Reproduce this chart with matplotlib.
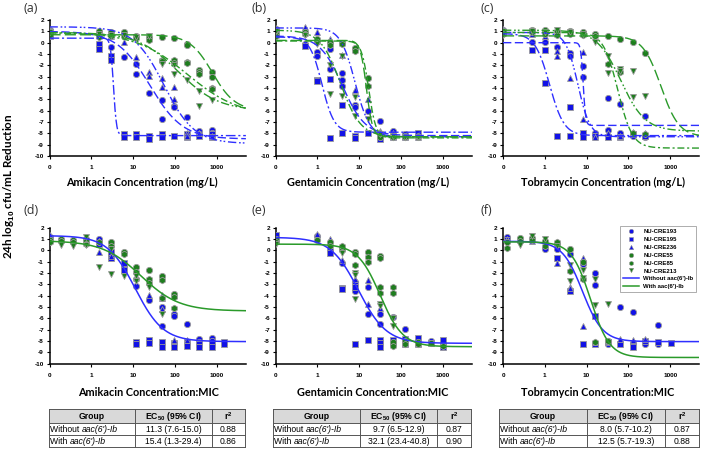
import numpy as np
import matplotlib
matplotlib.use("Agg")
import matplotlib.pyplot as plt
from matplotlib.lines import Line2D
from matplotlib.patches import Rectangle

plt.rcParams['mathtext.fontset'] = 'custom'
plt.rcParams['mathtext.rm'] = 'Liberation Sans'
plt.rcParams['mathtext.it'] = 'Liberation Sans:italic'
plt.rcParams['mathtext.bf'] = 'Liberation Sans:bold'

# ------------------------------------------------------------------ data
isolates = ['NU-CRE193', 'NU-CRE195', 'NU-CRE236', 'NU-CRE55', 'NU-CRE85', 'NU-CRE213']
x_ticks = [0, 1, 10, 100, 1000]
y_ticks = [2, 1, 0, -1, -2, -3, -4, -5, -6, -7, -8, -9, -10]

# (a) Amikacin (mg/L): (concentration, log10 reduction)
amk_193 = [(0, 1.1), (0, 0.9), (1.5, 0.8), (3, -0.35), (6, -1.25), (12, -1.85), (12, -2.8), (24, -4.45),
           (48, -5.1), (48, -6.7), (96, -5.6), (96, -5.7), (192, -6.6), (384, -7.8), (384, -8.1),
           (768, -7.7), (768, -8.0)]
amk_195 = [(0, 0.8), (0, 0.6), (1.5, -0.1), (1.5, -0.6), (3, -1.2), (3, -1.5), (6, -8.1), (6, -8.3),
           (12, -8.1), (12, -8.3), (24, -8.2), (24, -8.5), (48, -8.1), (48, -8.3), (96, -8.2),
           (192, -8.1), (192, -8.3), (384, -8.2), (768, -8.1), (768, -8.3)]
amk_236 = [(0, 1.0), (1.5, 0.9), (3, 0.6), (6, 0.1), (12, -1.3), (24, -2.6), (24, -2.9), (48, -3.1),
           (48, -3.9), (96, -3.9), (96, -5.0), (192, -8.0), (192, -8.2), (384, -8.0), (768, -8.2)]
amk_55 = [(0, 1.0), (0, 0.8), (1.5, 1.0), (3, 0.9), (6, 0.9), (12, 0.6), (24, 0.5), (48, 0.5), (96, 0.4),
          (192, -0.1), (192, -0.2), (384, -2.4), (768, -2.6), (768, -3.0)]
amk_85 = [(0, 0.7), (1.5, 0.7), (1.5, 0.5), (3, 0.6), (6, 0.6), (12, 0.4), (24, 0.2), (48, -1.5),
          (48, -1.6), (96, -1.5), (96, -1.8), (192, -1.7), (192, -1.8), (384, -2.6), (384, -2.8),
          (768, -4.0), (768, -4.1)]
amk_213 = [(0, 0.9), (1.5, 0.8), (3, 0.7), (6, 0.7), (12, 0.5), (24, 0.6), (48, -1.9), (96, -2.0),
           (96, -2.8), (192, -3.3), (384, -4.3), (384, -5.6), (768, -5.1)]
# fitted Emax curves per isolate: top, bottom, EC50, Hill
amk_top = [1.0, 0.4, 1.4, 0.7, 0.9, 0.9]
amk_bottom = [-8.5, -8.2, -8.9, -6.0, -6.5, -6.0]
amk_ec50 = [25, 3.4, 55, 790, 200, 120]
amk_hill = [1.1, 12, 1.2, 1.6, 0.7, 0.9]

# (b) Gentamicin (mg/L)
gen_193 = [(0, 1.2), (0.5, -0.1), (1, -0.8), (1, -1.2), (2, -0.6), (2, -2.3), (4, -2.7), (4, -3.3),
           (4, -3.8), (8, -5.5), (8, -5.7), (16, -6.0), (32, -6.9), (64, -7.8), (128, -8.1), (256, -8.2)]
gen_195 = [(0, 1.0), (0.5, -0.3), (1, -3.3), (1, -3.4), (2, -3.2), (2, -8.4), (4, -5.5), (4, -8.0),
           (8, -8.2), (8, -8.4), (16, -8.0), (32, -8.2), (32, -8.5), (64, -8.3), (128, -8.3), (256, -8.0)]
gen_236 = [(0, 1.3), (0.5, 1.4), (1, 0.9), (2, 0.3), (4, -1.1), (8, -4.2), (16, -5.0), (32, -7.8),
           (64, -8.0), (128, -8.2), (256, -8.3)]
gen_55 = [(0, 0.8), (0.5, 0.9), (1, 0.3), (2, 0.1), (4, 0.0), (8, -0.5), (16, -3.1), (32, -8.3),
          (64, -8.2), (128, -8.2), (256, -8.3)]
gen_85 = [(0, 0.6), (0.5, 0.8), (1, 0.1), (2, -0.2), (4, -0.1), (8, -0.7), (16, -3.8), (32, -8.0),
          (64, -8.3), (128, -8.3), (256, -8.2)]
gen_213 = [(0, 1.0), (0.5, 0.7), (1, -0.1), (2, -2.0), (2, -4.5), (4, -1.2), (4, -4.7), (8, -4.8),
           (8, -6.5), (16, -6.7), (32, -8.1), (64, -8.2), (128, -8.3), (256, -8.3)]
gen_top = [0.6, 0.5, 1.3, 0.2, 0.15, 1.1]
gen_bottom = [-8.2, -7.9, -8.3, -8.3, -8.4, -8.3]
gen_ec50 = [4.0, 1.3, 8.0, 15, 17, 3.6]
gen_hill = [1.6, 3.0, 2.5, 6, 5, 1.8]

# (c) Tobramycin (mg/L)
tob_193 = [(0, 1.1), (0.5, 0.1), (1, 0.1), (2, -0.35), (4, -0.95), (4, -1.2), (8, -2.05), (8, -3.0),
           (16, -8.0), (16, -8.2), (32, -4.9), (32, -7.7), (64, -5.4), (64, -8.0), (128, -8.2),
           (256, -6.5), (256, -8.3)]
tob_195 = [(0, 0.9), (0.5, -0.65), (1, -0.65), (1, -3.6), (2, -8.2), (4, -5.7), (4, -8.2), (8, -8.0),
           (8, -8.3), (16, -8.2), (32, -8.3), (64, -8.3), (128, -8.1), (256, -8.2)]
tob_236 = [(0, 1.2), (0.5, 0.8), (1, 0.6), (2, -0.7), (2, -1.15), (4, -3.1), (8, -0.8), (8, -6.7),
           (16, -8.3), (32, -8.0), (64, -8.2), (128, -7.9), (256, -8.0)]
tob_55 = [(0, 1.0), (0.5, 1.1), (1, 1.1), (2, 1.0), (4, 1.0), (8, 0.9), (16, 0.8), (32, 0.6), (64, 0.3),
          (128, 0.1), (256, -0.95)]
tob_85 = [(0, 0.8), (0.5, 0.9), (1, 0.8), (2, 0.7), (4, 0.8), (8, 0.7), (16, 0.6), (32, -1.9),
          (64, -2.6), (128, -8.0), (256, -8.1)]
tob_213 = [(0, 0.7), (0.5, 1.0), (1, 0.9), (2, 1.1), (4, 0.9), (8, 0.8), (16, 0.1), (32, -1.2),
           (32, -2.7), (64, -2.3), (64, -2.5), (128, -2.5), (128, -4.8), (256, -4.7)]
tob_top = [0.0, 0.8, 0.9, 0.6, 0.9, 1.1]
tob_bottom = [-7.3, -8.2, -8.3, -8.3, -9.3, -7.8]
tob_ec50 = [8.3, 1.3, 6.2, 600, 56, 66]
tob_hill = [15, 2.5, 3.0, 2.0, 2.5, 1.5]

# (d) Amikacin concentration:MIC
amkm_193 = [(0, 1.2), (1.5, 1.0), (3, -0.3), (6, -1.4), (12, -3.1), (24, -4.4), (48, -5.0), (48, -6.7),
            (96, -5.6), (96, -5.8), (192, -6.5), (384, -7.8), (384, -8.1), (768, -7.7), (768, -8.0)]
amkm_195 = [(0, 0.97), (1.5, 0.55), (3, -0.1), (3, -0.7), (6, -1.1), (6, -1.7), (12, -8.1), (12, -8.3),
            (24, -7.9), (24, -8.2), (48, -8.1), (48, -8.5), (96, -8.2), (96, -8.5), (192, -8.1),
            (192, -8.4), (384, -8.3), (384, -8.5), (768, -8.3), (768, -8.5), (1536, -8.1), (1536, -8.3)]
amkm_236 = [(0, 1.35), (1.5, 0.8), (1.5, -0.1), (3, -0.5), (24, -3.9), (48, -3.9), (48, -4.2),
            (48, -5.2), (96, -3.9), (96, -7.9), (192, -7.9)]
amkm_55 = [(0, 0.9), (0.1875, 1.0), (0.375, 0.9), (0.75, 1.0), (3, 0.7), (6, -0.1), (12, -1.5),
           (24, -1.7), (48, -2.3), (96, -3.85)]
amkm_85 = [(0, 0.7), (0.1875, 0.8), (0.375, 0.7), (0.75, 0.8), (0.75, 0.6), (1.5, 0.7), (3, 0.4),
           (6, -0.3), (12, -1.9), (12, -2.5), (24, -2.5), (24, -2.9), (48, -2.6), (48, -4.2), (96, -4.1),
           (96, -5.1)]
amkm_213 = [(0.1875, 0.5), (0.375, 0.4), (0.75, 1.2), (0.75, 0.5), (1.5, -1.5), (3, 0.1), (3, -2.1),
            (6, -2.3), (12, -2.3), (12, -2.7), (24, -3.2), (48, -5.6)]

# (e) Gentamicin concentration:MIC
genm_193 = [(0, 1.2), (1, 1.25), (2, 0.03), (4, -1.15), (8, -2.8), (8, -3.6), (16, -3.2), (16, -5.6),
            (32, -5.6), (32, -6.5), (64, -5.9), (128, -6.9), (256, -8.0), (512, -8.0), (1024, -8.2)]
genm_195 = [(0, 1.35), (2, -0.26), (4, -3.3), (4, -3.4), (8, -3.2), (8, -8.3), (16, -7.9), (32, -7.9),
            (32, -8.2), (32, -8.5), (64, -7.9), (64, -8.2), (128, -7.8), (128, -8.3), (256, -7.7),
            (256, -8.3), (512, -8.2), (1024, -7.9), (1024, -8.5)]
genm_236 = [(1, 1.45), (2, 0.97), (4, -0.85), (8, -2.5), (16, -2.6), (16, -4.7), (32, -5.1), (128, -8.1)]
genm_55 = [(0, 0.97), (1, 0.9), (2, 0.7), (4, 0.2), (8, -0.1), (16, -0.1), (32, -0.5), (64, -8.1),
           (128, -8.0), (256, -8.1), (512, -8.2)]
genm_85 = [(0, 0.7), (2, 0.4), (4, 0.0), (4, 0.4), (8, -0.3), (8, -1.3), (16, -0.6), (16, -1.0),
           (32, -0.65), (32, -3.2), (32, -3.8), (64, -3.2), (64, -3.8), (64, -8.4), (128, -8.3),
           (256, -8.3), (1024, -8.4)]
genm_213 = [(0, 0.55), (4, -0.2), (8, -2.0), (8, -2.2), (8, -4.3), (32, -4.7), (32, -4.9), (64, -6.0),
            (64, -6.7)]

# (f) Tobramycin concentration:MIC
tobm_193 = [(0.125, 1.2), (1, 0.1), (2, 0.1), (4, -0.35), (8, -1.0), (8, -1.2), (16, -2.0), (16, -3.05),
            (32, -8.0), (32, -8.3), (64, -5.0), (128, -5.45), (128, -8.2), (256, -8.3), (512, -6.6),
            (512, -8.3)]
tobm_195 = [(0.125, 0.9), (2, -0.7), (4, -3.55), (8, -8.3), (16, -5.75), (16, -8.25), (32, -8.1),
            (64, -8.3), (128, -8.5), (256, -8.0), (512, -8.1), (1024, -8.2)]
tobm_236 = [(0.125, 1.0), (0.5, 0.8), (1, 0.55), (2, -1.1), (4, -3.2), (4, -3.35), (8, -0.7), (8, -6.7),
            (16, -8.05), (32, -8.0), (64, -7.8), (128, -7.9), (256, -7.8)]
tobm_55 = [(0.125, 0.75), (0.25, 1.05), (0.5, 1.1), (1, 0.8), (2, 0.55), (4, 0.1), (8, -1.0)]
tobm_85 = [(0.125, 0.25), (0.25, 0.85), (0.5, 0.95), (1, 0.4), (2, 0.75), (4, -1.8), (8, -2.55),
           (16, -8.05), (32, -8.0)]
tobm_213 = [(0.25, 0.6), (0.25, 0.45), (0.5, 1.25), (1, 1.0), (2, 0.4), (4, -1.3), (4, -2.7), (8, -1.75),
            (8, -2.4), (16, -2.5), (16, -4.8), (32, -4.75)]

# pooled fits (panels d, e, f) and table values
groups = ["Without aac(6')-Ib", "With aac(6')-Ib"]
ec50_without = [11.3, 9.7, 8.0]
ci_without = ['7.6-15.0', '6.5-12.9', '5.7-10.2']
r2_without = [0.88, 0.87, 0.87]
ec50_with = [15.4, 32.1, 12.5]
ci_with = ['1.3-29.4', '23.4-40.8', '5.7-19.3']
r2_with = [0.86, 0.90, 0.88]
top_without = [1.3, 1.15, 0.8]
bottom_without = [-8.05, -8.2, -8.05]
hill_without = [1.3, 1.3, 1.8]
top_with = [0.85, 0.55, 0.75]
bottom_with = [-5.35, -8.5, -9.45]
hill_with = [0.95, 1.6, 1.9]

drug_labels = ['Amikacin', 'Gentamicin', 'Tobramycin']

# ------------------------------------------------------------------ style
W, H = 702, 455
BLUE = '#1212e6'
GREEN = '#1e7d1e'
LBLUE = '#2f2fff'
LGREEN = '#2a9a2a'
EDGE = '#9a9a9a'
ZERO = 0.1
markers = ['o', 's', '^', 'o', 'h', 'v']
mcolors = [BLUE, BLUE, BLUE, GREEN, GREEN, GREEN]
msizes = [4.5, 4.0, 4.5, 4.5, 4.7, 4.5]
lstyles = [(0, (6, 2.5)), (0, (7, 2, 1.5, 2)), (0, (6, 2, 1.2, 1.5, 1.2, 2)),
           (0, (8, 3)), (0, (5, 2, 1.5, 2)), (0, (6, 2, 1.2, 1.5, 1.2, 2))]
TICKFONT = dict(family='Liberation Sans', weight='bold', size=4.6)
LABELFONT = dict(family='Lato', weight='bold', size=7.8)

fig = plt.figure(figsize=(W / 100, H / 100), dpi=100)


def hill_curve(x, top, bottom, ec50, h):
    return bottom + (top - bottom) / (1.0 + (x / ec50) ** h)


def make_axes(left, top_px):
    ax = fig.add_axes([left / W, 1 - (top_px + 136) / H, 196.4 / W, 136 / H])
    ax.set_xscale('log')
    ax.set_xlim(ZERO, 5000)
    ax.set_ylim(-10, 2)
    for s in ('top', 'right'):
        ax.spines[s].set_visible(False)
    for s in ('left', 'bottom'):
        ax.spines[s].set_linewidth(1.1)
    ax.set_xticks([ZERO if t == 0 else t for t in x_ticks])
    ax.set_xticklabels([str(t) for t in x_ticks], fontdict=TICKFONT)
    ax.xaxis.set_minor_locator(matplotlib.ticker.NullLocator())
    ax.set_yticks(y_ticks)
    ax.set_yticklabels([str(t) for t in y_ticks], fontdict=TICKFONT)
    ax.tick_params(axis='both', direction='out', length=2.5, width=0.8, pad=1.5)
    ax.tick_params(axis='x', pad=4)
    ax.patch.set_alpha(0)
    return ax


def scatter_iso(ax, pts, i):
    xs = [ZERO if p[0] == 0 else p[0] for p in pts]
    ys = [p[1] for p in pts]
    ax.plot(xs, ys, linestyle='none', marker=markers[i], color=mcolors[i], ms=msizes[i],
            mec=EDGE, mew=0.6, zorder=3)


xx = np.logspace(np.log10(ZERO), np.log10(5000), 400)
lefts = [49.5, 275.5, 503.0]

top_sets = [
    ([amk_193, amk_195, amk_236, amk_55, amk_85, amk_213], amk_top, amk_bottom, amk_ec50, amk_hill),
    ([gen_193, gen_195, gen_236, gen_55, gen_85, gen_213], gen_top, gen_bottom, gen_ec50, gen_hill),
    ([tob_193, tob_195, tob_236, tob_55, tob_85, tob_213], tob_top, tob_bottom, tob_ec50, tob_hill),
]
bottom_sets = [
    [amkm_193, amkm_195, amkm_236, amkm_55, amkm_85, amkm_213],
    [genm_193, genm_195, genm_236, genm_55, genm_85, genm_213],
    [tobm_193, tobm_195, tobm_236, tobm_55, tobm_85, tobm_213],
]

xlabel_top_cx = [142, 368, 603]
xlabel_bot_cx = [148, 373, 598]
for k in range(3):
    data, tops, bots, ecs, hs = top_sets[k]
    ax = make_axes(lefts[k], 20)
    for i in range(6):
        scatter_iso(ax, data[i], i)
    for i in range(6):
        ax.plot(xx, hill_curve(xx, tops[i], bots[i], ecs[i], hs[i]), color=LBLUE if i < 3 else LGREEN,
                lw=1.0, linestyle=lstyles[i], zorder=4)
    fig.text(xlabel_top_cx[k] / W, 1 - 182 / H, drug_labels[k] + ' Concentration (mg/L)',
             ha='center', va='center', **LABELFONT)

    ax2 = make_axes(lefts[k], 227.7)
    for i in range(6):
        scatter_iso(ax2, bottom_sets[k][i], i)
    ax2.plot(xx, hill_curve(xx, top_without[k], bottom_without[k], ec50_without[k], hill_without[k]),
             color=LBLUE, lw=1.1, zorder=4)
    ax2.plot(xx, hill_curve(xx, top_with[k], bottom_with[k], ec50_with[k], hill_with[k]),
             color=LGREEN, lw=1.1, zorder=4)
    fig.text(xlabel_bot_cx[k] / W, 1 - 392 / H, drug_labels[k] + ' Concentration:MIC',
             ha='center', va='center', **LABELFONT)

# panel letters
for lab, (px, py) in zip(['(a)', '(b)', '(c)', '(d)', '(e)', '(f)'],
                         [(31, 9), (259, 8), (487, 8), (31, 211), (259, 211), (486, 211)]):
    fig.text(px / W, 1 - py / H, lab, ha='center', va='center', family='Open Sans', size=9, color='#333333')

fig.text(9 / W, 1 - 186 / H, r'24h log$_{\mathbf{10}}$ cfu/mL Reduction', rotation=90,
         ha='center', va='center', family='Lato', weight='bold', size=8.4)

# legend
handles = [Line2D([], [], linestyle='none', marker=markers[i], color=mcolors[i], ms=3.2, mec=EDGE, mew=0.4)
           for i in range(6)]
handles += [Line2D([], [], color=LBLUE, lw=1.1), Line2D([], [], color=LGREEN, lw=1.1)]
leg = fig.legend(handles, isolates + groups, loc='upper left', bbox_to_anchor=(620 / W, 1 - 226 / H),
                 prop=dict(family='Liberation Sans', weight='bold', size=4.3), frameon=True,
                 fancybox=False, edgecolor='#888888', borderpad=0.5, labelspacing=0.45,
                 handlelength=2.6, handletextpad=0.8, borderaxespad=0)
leg.get_frame().set_linewidth(0.6)

# tables
col_frac = [0.44, 0.39, 0.17]
row_h = [14, 12, 12]


def draw_table(left, width, top, k):
    tax = fig.add_axes([left / W, 1 - (top + sum(row_h)) / H, width / W, sum(row_h) / H])
    tax.set_xlim(0, width)
    tax.set_ylim(sum(row_h), 0)
    tax.axis('off')
    tax.add_patch(Rectangle((0, 0), width, row_h[0], facecolor='#d9d9d9', edgecolor='none'))
    xs = np.concatenate([[0], np.cumsum(col_frac) * width])
    ys = np.concatenate([[0], np.cumsum(row_h)])
    for y in ys:
        tax.plot([0, width], [y, y], color='#555555', lw=0.7, clip_on=False)
    for x in xs:
        tax.plot([x, x], [0, ys[-1]], color='#555555', lw=0.7, clip_on=False)
    tf = dict(family='Liberation Sans', size=6.2)
    hdr = ['Group', r'EC$_{\mathbf{50}}$ (95% CI)', r'r$^{\mathbf{2}}$']
    for j in range(3):
        tax.text((xs[j] + xs[j + 1]) / 2, ys[0] + row_h[0] / 2 + 0.5, hdr[j], ha='center', va='center',
                 weight='bold', **tf)
    rows = [
        ("Without ", "aac(6')-Ib", f'{ec50_without[k]:.1f} ({ci_without[k]})', f'{r2_without[k]:.2f}'),
        ("With ", "aac(6')-Ib", f'{ec50_with[k]:.1f} ({ci_with[k]})', f'{r2_with[k]:.2f}'),
    ]
    for r, row in enumerate(rows):
        yc = (ys[r + 1] + ys[r + 2]) / 2 + 0.5
        t1 = tax.text(xs[0] + 1.5, yc, row[0], ha='left', va='center', **tf)
        bb = t1.get_window_extent(renderer=fig.canvas.get_renderer())
        x_end = tax.transData.inverted().transform((bb.x1, bb.y0))[0]
        tax.text(x_end, yc, row[1], ha='left', va='center', style='italic', **tf)
        tax.text((xs[1] + xs[2]) / 2, yc, row[2], ha='center', va='center', **tf)
        tax.text((xs[2] + xs[3]) / 2, yc, row[3], ha='center', va='center', **tf)


draw_table(49, 196, 409, 0)
draw_table(273, 198, 409, 1)
draw_table(499, 200, 409, 2)

fig.savefig('out.png', dpi=100)
